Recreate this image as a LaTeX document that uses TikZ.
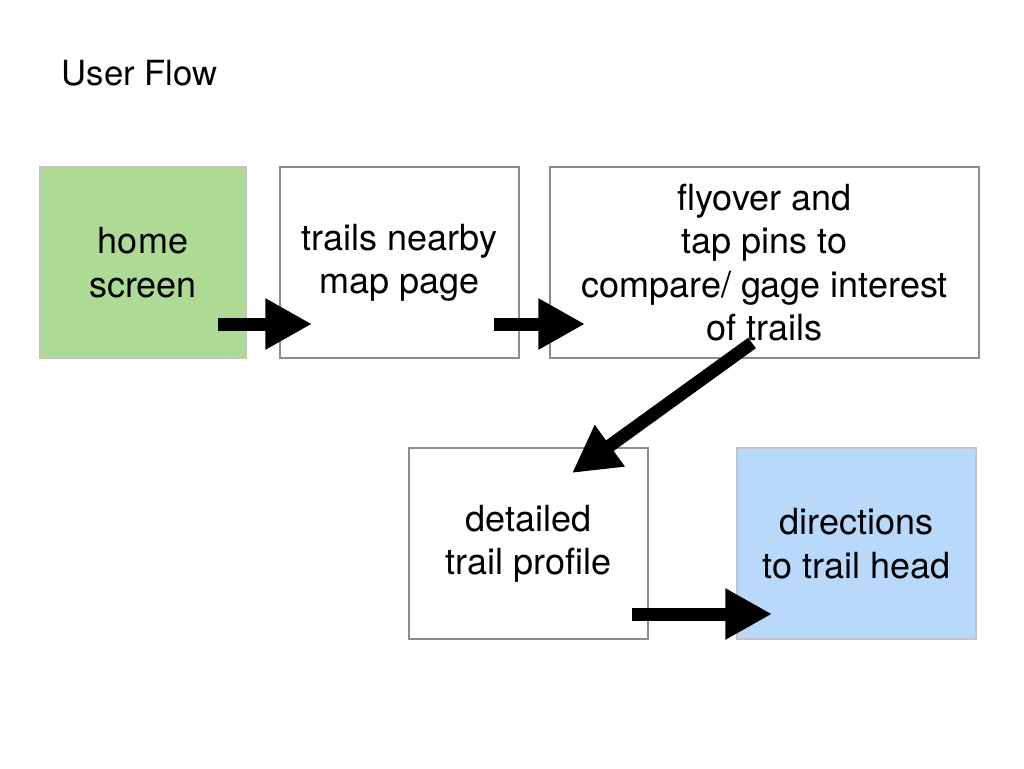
\documentclass[tikz,border=0pt]{standalone}
\usepackage{fontspec}
\setmainfont{TeX Gyre Heros}
\usetikzlibrary{arrows.meta}

\definecolor{homegreen}{RGB}{174,219,148}
\definecolor{dirblue}{RGB}{184,217,250}
\definecolor{boxgray}{RGB}{138,141,144}
\definecolor{lightgray}{RGB}{196,196,196}

\tikzset{
  screen/.style={draw=boxgray, line width=1.5pt, fill=white, inner sep=0pt,
    minimum width=179.25pt, minimum height=143.25pt, align=center,
    font=\fontsize{27}{32.5}\selectfont},
  flowarrow/.style={line width=9.75pt, -{Triangle[length=35pt,width=36pt]}}
}

\begin{document}
\begin{tikzpicture}[x=0.75pt,y=-0.75pt]
            \useasboundingbox (0,0) rectangle (1024,768);

            \node[anchor=west, font=\fontsize{26}{32}\selectfont] (title) at (57,73) {User Flow};

            \node[screen, fill=homegreen, draw=lightgray, minimum width=154.5pt] (home) at (143,262.5) {home\\screen};
            \node[screen] (nearby) at (399.5,262.5) {trails nearby\\map page};
            \node[screen, minimum width=321.75pt] (flyover) at (764.5,262.5) {flyover and\\tap pins to\\compare/ gage interest\\of trails};
            \node[screen] (profile) at (528.5,543.5) {detailed\\trail profile};
            \node[screen, fill=dirblue, draw=lightgray] (directions) at (856.5,543.5) {directions\\to trail head};

            \coordinate (homeout) at (218,324);
            \coordinate (nearbyin) at (312,324);
            \coordinate (nearbyout) at (494,324);
            \coordinate (flyoverin) at (585,324);
            \coordinate (flyoverout) at (752,343);
            \coordinate (profilein) at (572,473);
            \coordinate (profileout) at (632,614);
            \coordinate (directionsin) at (772,614);

            \draw[flowarrow] (homeout) -- (nearbyin);
            \draw[flowarrow] (nearbyout) -- (flyoverin);
            \draw[flowarrow] (flyoverout) -- (profilein);
            \draw[flowarrow] (profileout) -- (directionsin);
        \end{tikzpicture}
\end{document}
